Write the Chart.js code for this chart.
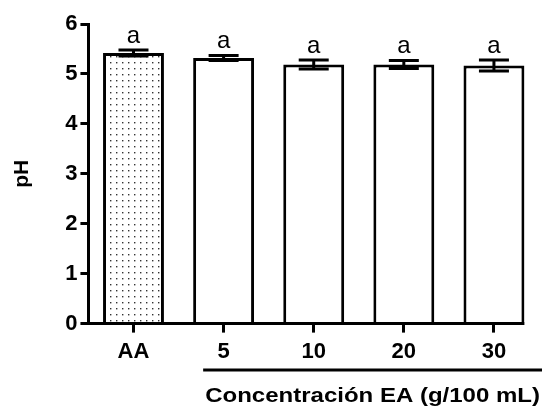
<!DOCTYPE html>
<html>
<head>
<meta charset="utf-8">
<script src="https://cdn.jsdelivr.net/npm/chart.js@4.4.1/dist/chart.umd.min.js"></script>
<style>
  html, body { margin: 0; padding: 0; background: #fff; }
  #wrap { width: 542px; height: 417px; }
</style>
</head>
<body>
<div id="wrap"><canvas id="phChart" width="542" height="417"></canvas></div>
<script>
// データ
const categories = ["AA", "5", "10", "20", "30"];
const phValues = [5.42, 5.32, 5.19, 5.19, 5.17];
const phErrors = [0.06, 0.05, 0.09, 0.08, 0.11];
const letters = ["a", "a", "a", "a", "a"];
const yTicks = [0, 1, 2, 3, 4, 5, 6];
const xTitle = "Concentración EA (g/100 mL)";

const FONT = "'Liberation Sans', Arial, sans-serif";

// AA用のドットパターン
function makeDotPattern() {
  const c = document.createElement("canvas");
  c.width = 6;
  c.height = 6;
  const g = c.getContext("2d");
  g.fillStyle = "#fff";
  g.fillRect(0, 0, 6, 6);
  g.fillStyle = "#333";
  g.fillRect(2, 2, 1.4, 1.4);
  return document.getElementById("phChart").getContext("2d").createPattern(c, "repeat");
}

const fills = categories.map((c, i) => (i === 0 ? makeDotPattern() : "#fff"));

// エラーバー・文字・軸線
const extras = {
  id: "extras",
  afterDatasetsDraw(chart) {
    const ctx = chart.ctx;
    const x = chart.scales.x;
    const y = chart.scales.y;
    const meta = chart.getDatasetMeta(0);
    ctx.save();
    ctx.strokeStyle = "#000";
    ctx.lineWidth = 3;
    meta.data.forEach((bar, i) => {
      const cx = bar.x;
      const top = y.getPixelForValue(phValues[i] + phErrors[i]);
      const bot = y.getPixelForValue(phValues[i] - phErrors[i]);
      ctx.beginPath();
      ctx.moveTo(cx, top);
      ctx.lineTo(cx, bot);
      ctx.moveTo(cx - 15, top);
      ctx.lineTo(cx + 15, top);
      ctx.moveTo(cx - 15, bot);
      ctx.lineTo(cx + 15, bot);
      ctx.stroke();
      ctx.fillStyle = "#000";
      ctx.font = "24px " + FONT;
      ctx.textAlign = "center";
      ctx.textBaseline = "alphabetic";
      ctx.fillText(letters[i], cx, top - 7);
    });

    // x軸の線(最後の棒の右端まで)
    const last = meta.data[meta.data.length - 1];
    const right = last.x + last.width / 2;
    const bottom = y.getPixelForValue(0);
    ctx.beginPath();
    ctx.moveTo(x.left - 1.5, bottom);
    ctx.lineTo(right, bottom);
    ctx.stroke();

    // EA濃度の線とタイトル
    const b1 = meta.data[1];
    const lineLeft = b1.x - b1.width / 2 + 10;
    const lineRight = chart.width;
    const lineY = 370;
    ctx.beginPath();
    ctx.moveTo(lineLeft, lineY);
    ctx.lineTo(lineRight, lineY);
    ctx.stroke();
    ctx.font = "bold 21px " + FONT;
    ctx.textAlign = "center";
    ctx.textBaseline = "middle";
    const w = ctx.measureText(xTitle).width;
    const sx = (lineRight - lineLeft - 4) / w;
    ctx.translate((lineLeft + lineRight) / 2, 396);
    ctx.scale(sx, 1);
    ctx.fillText(xTitle, 0, 0);
    ctx.restore();
  },
};

new Chart(document.getElementById("phChart"), {
  type: "bar",
  data: {
    labels: categories,
    datasets: [
      {
        data: phValues,
        backgroundColor: fills,
        borderColor: "#000",
        borderWidth: 3,
        borderSkipped: "bottom",
        barPercentage: 0.676,
        categoryPercentage: 1,
      },
    ],
  },
  options: {
    responsive: false,
    animation: false,
    devicePixelRatio: 1,
    layout: { padding: { top: 24, right: 3, bottom: 46, left: 10 } },
    plugins: {
      legend: { display: false },
      tooltip: { enabled: false },
    },
    scales: {
      x: {
        offset: true,
        border: { display: false },
        grid: {
          offset: false,
          drawOnChartArea: false,
          drawTicks: true,
          tickLength: 9,
          color: "#000",
          lineWidth: 3,
        },
        ticks: {
          color: "#000",
          padding: 6,
          font: { family: FONT, size: 22, weight: "bold" },
        },
      },
      y: {
        min: 0,
        max: 6,
        afterBuildTicks(scale) {
          scale.ticks = yTicks.map((v) => ({ value: v }));
        },
        border: { display: true, color: "#000", width: 3 },
        grid: {
          drawOnChartArea: false,
          drawTicks: true,
          tickLength: 8,
          color: "#000",
          lineWidth: 3,
        },
        ticks: {
          color: "#000",
          padding: 3,
          font: { family: FONT, size: 22, weight: "bold" },
        },
        title: {
          display: true,
          text: "pH",
          color: "#000",
          padding: { top: 0, bottom: 27 },
          font: { family: FONT, size: 21, weight: "bold" },
        },
      },
    },
  },
  plugins: [extras],
});
</script>
</body>
</html>
